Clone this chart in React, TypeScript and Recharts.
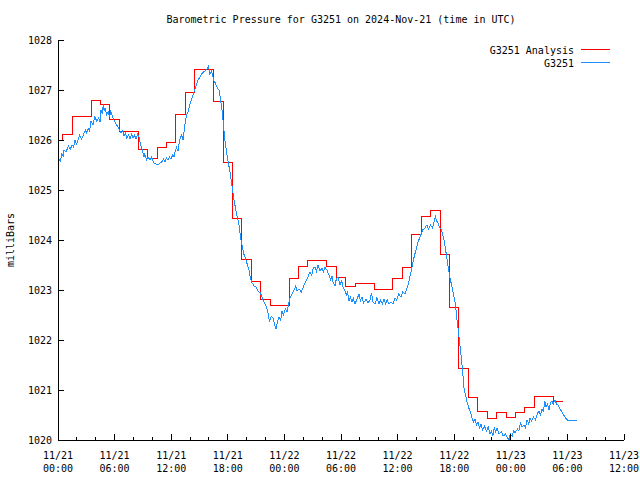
import React from 'react';
import { LineChart, Line, XAxis, YAxis, Legend } from 'recharts';

// hours since 2024-11-21 00:00 UTC
const xTicks = [0, 2, 4, 6, 8, 10, 12, 14, 16, 18, 20, 22, 24, 26, 28, 30, 32, 34, 36, 38, 40, 42, 44, 46, 48, 50, 52, 54, 56, 58, 60];
const yTicks = [1020, 1021, 1022, 1023, 1024, 1025, 1026, 1027, 1028];
const dayLabels = ['11/21', '11/22', '11/23'];

// hourly analysis, each value holds from hour k + 0.5
const analysisStart = 1026.0;
const analysisValues = [
  1026.11, 1026.47, 1026.47, 1026.79, 1026.71, 1026.41, 1026.18, 1026.18, 1025.82, 1025.63,
  1025.85, 1025.95, 1026.51, 1026.95, 1027.41, 1027.41, 1026.77, 1025.55, 1024.43, 1023.61,
  1023.17, 1022.81, 1022.7, 1022.7, 1023.24, 1023.47, 1023.59, 1023.59, 1023.47, 1023.26,
  1023.07, 1023.13, 1023.13, 1023.02, 1023.02, 1023.24, 1023.45, 1024.11, 1024.47, 1024.59,
  1023.72, 1022.65, 1021.43, 1020.85, 1020.58, 1020.43, 1020.55, 1020.45, 1020.55, 1020.65,
  1020.88, 1020.88, 1020.77,
];

// station observations [hour, mb]
const stationObs: [number, number][] = [
  [0.0, 1025.52], [0.05, 1025.45], [0.1, 1025.62], [0.25, 1025.58], [0.4, 1025.72], [0.55, 1025.68],
  [0.64, 1025.8], [0.85, 1025.76], [1.1, 1025.88], [1.3, 1025.82], [1.5, 1025.9], [1.65, 1025.86],
  [1.8, 1026.0], [1.95, 1025.92], [2.1, 1025.98], [2.3, 1026.1], [2.5, 1026.02], [2.65, 1026.08],
  [2.9, 1026.2], [3.05, 1026.14], [3.2, 1026.24], [3.35, 1026.18], [3.5, 1026.37], [3.7, 1026.3],
  [3.9, 1026.46], [4.1, 1026.38], [4.3, 1026.44], [4.45, 1026.36], [4.56, 1026.6], [4.7, 1026.52],
  [4.8, 1026.72], [4.9, 1026.58], [5.0, 1026.64], [5.15, 1026.5], [5.33, 1026.56], [5.45, 1026.46],
  [5.6, 1026.58], [5.86, 1026.42], [6.05, 1026.36], [6.29, 1026.28], [6.5, 1026.2], [6.68, 1026.14],
  [6.85, 1026.18], [7.0, 1026.08], [7.15, 1026.14], [7.3, 1026.04], [7.5, 1026.1], [7.63, 1026.02],
  [7.8, 1026.12], [7.95, 1026.04], [8.1, 1026.1], [8.27, 1026.02], [8.45, 1026.12], [8.59, 1026.06],
  [8.77, 1025.9], [9.0, 1025.76], [9.1, 1025.66], [9.2, 1025.72], [9.4, 1025.6], [9.54, 1025.66],
  [9.75, 1025.6], [9.9, 1025.66], [10.07, 1025.58], [10.2, 1025.54], [10.39, 1025.52], [10.7, 1025.52],
  [11.0, 1025.56], [11.2, 1025.62], [11.34, 1025.56], [11.5, 1025.64], [11.66, 1025.6], [11.8, 1025.66],
  [11.98, 1025.62], [12.15, 1025.7], [12.3, 1025.66], [12.45, 1025.8], [12.56, 1025.85], [12.72, 1025.78],
  [12.9, 1026.0], [13.1, 1026.1], [13.25, 1026.0], [13.45, 1026.3], [13.62, 1026.5], [13.78, 1026.55],
  [13.95, 1026.7], [14.15, 1026.8], [14.4, 1026.95], [14.63, 1027.08], [14.85, 1027.2], [15.05, 1027.26],
  [15.3, 1027.34], [15.58, 1027.38], [15.8, 1027.42], [15.95, 1027.48], [16.1, 1027.32], [16.27, 1027.38],
  [16.5, 1027.2], [16.7, 1027.13], [16.9, 1027.04], [17.07, 1027.0], [17.2, 1026.85], [17.39, 1026.6],
  [17.55, 1026.3], [17.65, 1026.05], [17.92, 1025.7], [18.1, 1025.5], [18.29, 1025.3], [18.5, 1025.0],
  [18.66, 1024.8], [18.9, 1024.55], [19.19, 1024.3], [19.35, 1024.05], [19.5, 1023.9], [19.7, 1023.72],
  [19.88, 1023.64], [20.05, 1023.52], [20.25, 1023.4], [20.4, 1023.24], [20.57, 1023.14], [20.8, 1023.08],
  [21.0, 1023.06], [21.2, 1022.98], [21.47, 1022.94], [21.65, 1022.84], [21.84, 1022.76], [22.0, 1022.7],
  [22.16, 1022.62], [22.3, 1022.5], [22.42, 1022.36], [22.6, 1022.48], [22.79, 1022.44], [22.95, 1022.32],
  [23.11, 1022.22], [23.25, 1022.36], [23.43, 1022.46], [23.6, 1022.4], [23.75, 1022.58], [23.9, 1022.5],
  [24.1, 1022.62], [24.28, 1022.56], [24.45, 1022.72], [24.6, 1022.84], [24.8, 1022.92], [25.02, 1023.0],
  [25.2, 1023.08], [25.35, 1022.98], [25.55, 1023.02], [25.8, 1022.96], [26.0, 1023.06], [26.18, 1023.14],
  [26.45, 1023.24], [26.71, 1023.36], [26.9, 1023.3], [27.05, 1023.44], [27.24, 1023.46], [27.4, 1023.38],
  [27.56, 1023.5], [27.77, 1023.38], [28.0, 1023.44], [28.15, 1023.36], [28.3, 1023.46], [28.5, 1023.4],
  [28.73, 1023.3], [28.9, 1023.2], [29.05, 1023.28], [29.15, 1023.16], [29.37, 1023.08], [29.5, 1023.22],
  [29.68, 1023.26], [29.9, 1023.1], [30.05, 1023.2], [30.21, 1023.06], [30.4, 1023.0], [30.58, 1022.9],
  [30.7, 1022.96], [30.85, 1022.78], [31.0, 1022.86], [31.17, 1022.76], [31.3, 1022.84], [31.48, 1022.72],
  [31.7, 1022.82], [31.9, 1022.92], [32.05, 1022.78], [32.23, 1022.86], [32.4, 1022.74], [32.65, 1022.82],
  [32.85, 1022.74], [33.07, 1022.8], [33.23, 1022.94], [33.4, 1022.76], [33.6, 1022.72], [33.8, 1022.84],
  [34.03, 1022.72], [34.2, 1022.8], [34.4, 1022.72], [34.56, 1022.82], [34.75, 1022.72], [34.9, 1022.8],
  [35.09, 1022.72], [35.3, 1022.76], [35.5, 1022.72], [35.73, 1022.84], [35.9, 1022.8], [36.1, 1022.92],
  [36.36, 1022.86], [36.55, 1022.96], [36.79, 1022.92], [37.0, 1023.04], [37.16, 1023.14], [37.35, 1023.3],
  [37.53, 1023.46], [37.75, 1023.66], [38.0, 1023.84], [38.2, 1023.98], [38.43, 1024.08], [38.65, 1024.2],
  [38.9, 1024.24], [39.1, 1024.3], [39.25, 1024.22], [39.49, 1024.3], [39.7, 1024.24], [39.85, 1024.36],
  [40.02, 1024.46], [40.15, 1024.38], [40.28, 1024.34], [40.45, 1024.26], [40.65, 1024.2], [40.85, 1024.06],
  [41.03, 1023.88], [41.25, 1023.6], [41.45, 1023.36], [41.6, 1023.2], [41.77, 1023.06], [41.95, 1022.9],
  [42.14, 1022.7], [42.3, 1022.4], [42.51, 1022.06], [42.7, 1021.75], [42.83, 1021.5], [42.95, 1021.25],
  [43.04, 1021.04], [43.2, 1020.9], [43.36, 1020.76], [43.55, 1020.64], [43.73, 1020.56], [43.9, 1020.44],
  [44.05, 1020.36], [44.21, 1020.42], [44.35, 1020.3], [44.52, 1020.36], [44.7, 1020.24], [44.84, 1020.32],
  [45.0, 1020.2], [45.2, 1020.28], [45.43, 1020.18], [45.6, 1020.26], [45.8, 1020.12], [45.96, 1020.18],
  [46.1, 1020.08], [46.25, 1020.26], [46.38, 1020.16], [46.55, 1020.24], [46.75, 1020.12], [47.02, 1020.16],
  [47.2, 1020.08], [47.44, 1020.12], [47.6, 1020.06], [47.81, 1020.0], [47.95, 1020.12], [48.15, 1020.08],
  [48.3, 1020.18], [48.45, 1020.14], [48.7, 1020.22], [48.85, 1020.18], [49.03, 1020.34], [49.2, 1020.26],
  [49.4, 1020.3], [49.55, 1020.24], [49.72, 1020.4], [49.9, 1020.32], [50.05, 1020.44], [50.2, 1020.38],
  [50.4, 1020.46], [50.62, 1020.4], [50.8, 1020.52], [50.99, 1020.58], [51.15, 1020.5], [51.3, 1020.62],
  [51.47, 1020.58], [51.6, 1020.78], [51.73, 1020.66], [51.9, 1020.72], [52.05, 1020.6], [52.2, 1020.74],
  [52.37, 1020.78], [52.5, 1020.72], [52.69, 1020.8], [52.85, 1020.72], [53.0, 1020.7], [53.2, 1020.62],
  [53.43, 1020.56], [53.6, 1020.5], [53.8, 1020.44], [54.07, 1020.39], [55.02, 1020.39],
];

const RED = '#ff0000';
const BLUE = '#1e8fff';
const FONT = "'DejaVu Sans Mono', monospace";

// frame of the plot, in page pixels (gnuplot-like box)
const W = 640;
const H = 480;
const M_TOP = 40;
const M_RIGHT = 16;
const Y_AXIS_W = 58;
const X_AXIS_H = 40;
const PLOT_TOP = M_TOP;
const PLOT_BOTTOM = H - X_AXIS_H;
const PLOT_LEFT = Y_AXIS_W;
const PLOT_RIGHT = W - M_RIGHT;

const analysisData = [
  { t: 0, mb: analysisStart },
  ...analysisValues.map((v, k) => ({ t: k + 0.5, mb: v })),
  { t: analysisValues.length + 0.5, mb: analysisValues[analysisValues.length - 1] },
];
const stationData = stationObs.map(([t, mb]) => ({ t, mb }));

// ticks point inward, like gnuplot; position along the axis comes from recharts' scale
const BottomTick = (props: any) => {
  const { x, payload } = props;
  const y = PLOT_BOTTOM;
  const h = payload.value;
  const major = h % 6 === 0;
  const day = dayLabels[Math.floor(h / 24)] || '11/24';
  const hh = String(h % 24).padStart(2, '0');
  return (
    <g>
      <line x1={x} x2={x} y1={y} y2={y - (major ? 6 : 3)} stroke="#000" shapeRendering="crispEdges" />
      {major && (
        <text x={x} y={y + 19} textAnchor="middle" fontSize={10} fontFamily={FONT} fill="#000">
          <tspan x={x}>{day}</tspan>
          <tspan x={x} dy={13}>{hh}:00</tspan>
        </text>
      )}
    </g>
  );
};

const TopTick = (props: any) => {
  const { x, payload } = props;
  const y = PLOT_TOP;
  const major = payload.value % 6 === 0;
  return <line x1={x} x2={x} y1={y} y2={y + (major ? 6 : 3)} stroke="#000" shapeRendering="crispEdges" />;
};

const LeftTick = (props: any) => {
  const { y, payload } = props;
  const x = PLOT_LEFT;
  return (
    <g>
      <line x1={x} x2={x + 6} y1={y} y2={y} stroke="#000" shapeRendering="crispEdges" />
      <text x={x - 6} y={y + 4} textAnchor="end" fontSize={10} fontFamily={FONT} fill="#000">
        {payload.value}
      </text>
    </g>
  );
};

const RightTick = (props: any) => {
  const { y } = props;
  const x = PLOT_RIGHT;
  return <line x1={x} x2={x - 6} y1={y} y2={y} stroke="#000" shapeRendering="crispEdges" />;
};

const renderLegend = () => (
  <svg width={140} height={30} style={{ display: 'block' }}>
    <text x={94} y={14} textAnchor="end" fontSize={10} fontFamily={FONT} fill="#000">G3251 Analysis</text>
    <line x1={101} x2={130} y1={9.5} y2={9.5} stroke={RED} shapeRendering="crispEdges" />
    <text x={94} y={27} textAnchor="end" fontSize={10} fontFamily={FONT} fill="#000">G3251</text>
    <line x1={101} x2={130} y1={22.5} y2={22.5} stroke={BLUE} shapeRendering="crispEdges" />
  </svg>
);

const axisCommon = {
  type: 'number' as const,
  interval: 0 as const,
  tickLine: false,
  axisLine: { stroke: '#000', shapeRendering: 'crispEdges' },
  allowDataOverflow: true,
};

export default function App() {
  return (
    <div style={{ position: 'absolute', left: 0, top: 0, width: W, height: H, background: '#fff' }}>
      <svg width={W} height={H} style={{ position: 'absolute', left: 0, top: 0 }}>
        <text x={341} y={23} textAnchor="middle" fontSize={10} fontFamily={FONT} fill="#000">
          Barometric Pressure for G3251 on 2024-Nov-21 (time in UTC)
        </text>
        <text x={14} y={240} transform="rotate(-90 14 240)" textAnchor="middle" fontSize={10} fontFamily={FONT} fill="#000">
          milliBars
        </text>
      </svg>
      <div style={{ position: 'absolute', left: 0, top: 0 }}>
        <LineChart width={W} height={H} margin={{ top: M_TOP, right: M_RIGHT, bottom: 0, left: 0 }}>
          <XAxis {...axisCommon} xAxisId="b" dataKey="t" domain={[0, 60]} ticks={xTicks} height={X_AXIS_H} tick={<BottomTick />} />
          <XAxis {...axisCommon} xAxisId="t" orientation="top" dataKey="t" domain={[0, 60]} ticks={xTicks} height={0} tick={<TopTick />} />
          <YAxis {...axisCommon} yAxisId="l" domain={[1020, 1028]} ticks={yTicks} width={Y_AXIS_W} tick={<LeftTick />} />
          <YAxis {...axisCommon} yAxisId="r" orientation="right" domain={[1020, 1028]} ticks={yTicks} width={0} tick={<RightTick />} />
          <Legend
            layout="horizontal"
            verticalAlign="middle"
            align="center"
            content={renderLegend}
            wrapperStyle={{ position: 'absolute', top: 40, left: 480, width: 140, height: 30 }}
          />
          <Line
            xAxisId="b"
            yAxisId="l"
            data={analysisData}
            dataKey="mb"
            name="G3251 Analysis"
            type="stepAfter"
            stroke={RED}
            strokeWidth={1}
            shapeRendering="crispEdges"
            dot={false}
            isAnimationActive={false}
          />
          <Line
            xAxisId="b"
            yAxisId="l"
            data={stationData}
            dataKey="mb"
            name="G3251"
            type="linear"
            stroke={BLUE}
            strokeWidth={1}
            shapeRendering="crispEdges"
            dot={false}
            isAnimationActive={false}
          />
        </LineChart>
      </div>
    </div>
  );
}
